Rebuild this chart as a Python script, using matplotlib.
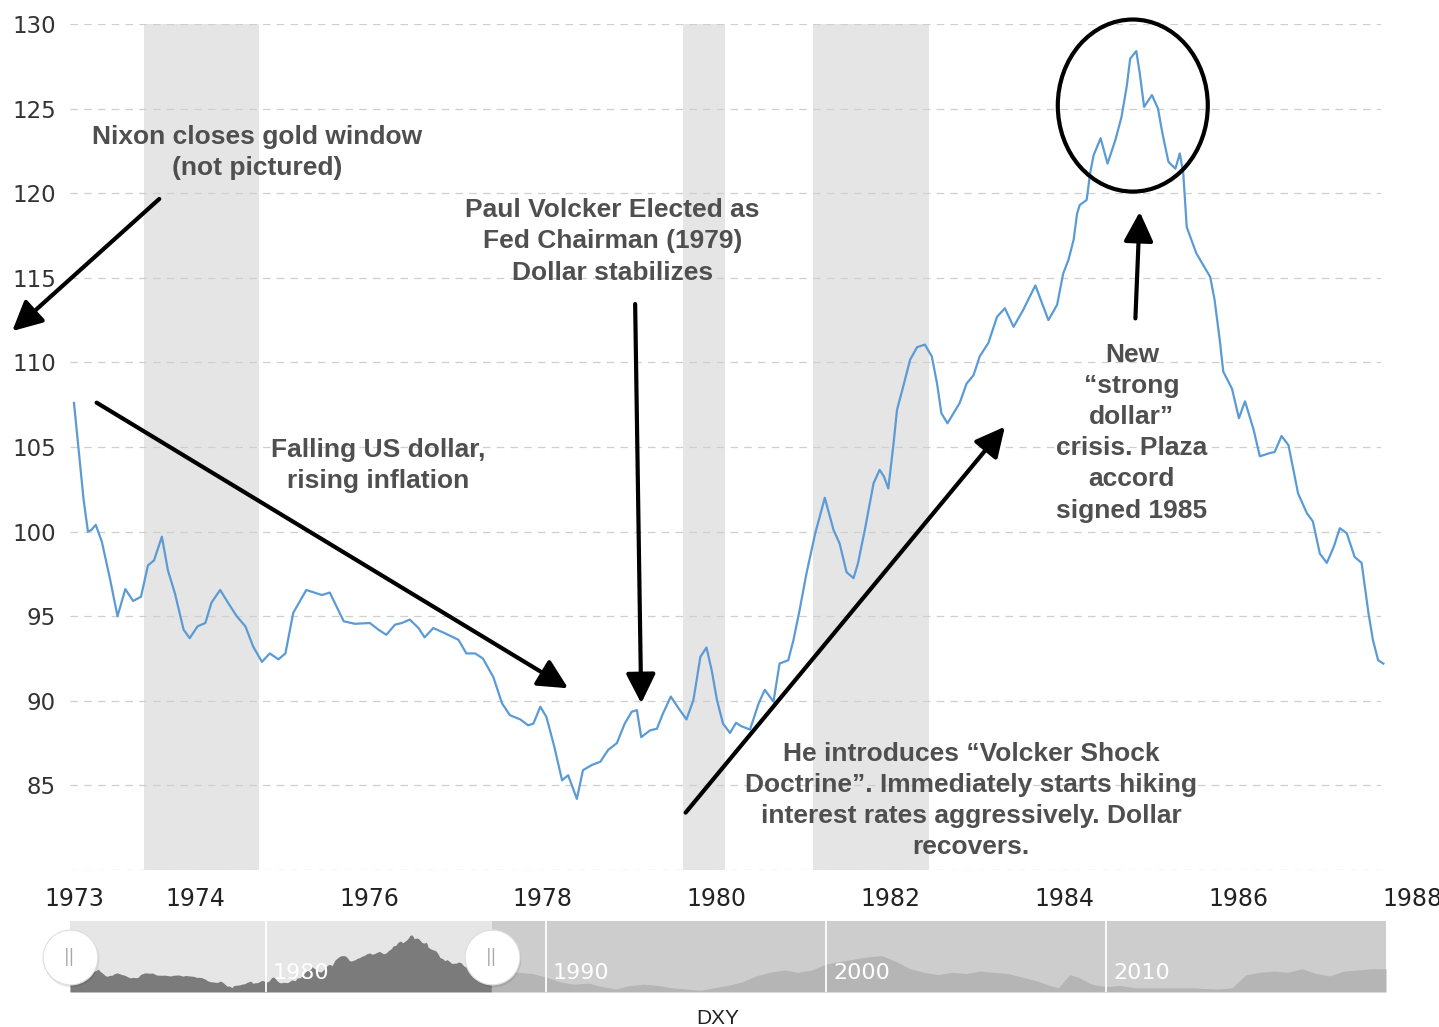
import matplotlib
matplotlib.use("Agg")
import matplotlib.pyplot as plt
import matplotlib.transforms as mtransforms
from matplotlib.patches import Ellipse

# ========================== Data ==========================
# DXY (decimal year, index level)
dxy_dates = [
    1973.00, 1973.05, 1973.11, 1973.16, 1973.20, 1973.25, 1973.32, 1973.41, 1973.50, 1973.59,
    1973.68, 1973.77, 1973.85, 1973.92, 1974.01, 1974.08, 1974.16, 1974.26, 1974.33, 1974.42,
    1974.51, 1974.58, 1974.68, 1974.77, 1974.87, 1974.97, 1975.06, 1975.16, 1975.25, 1975.35,
    1975.43, 1975.52, 1975.67, 1975.85, 1975.94, 1976.10, 1976.23, 1976.40, 1976.50, 1976.59,
    1976.69, 1976.77, 1976.86, 1976.96, 1977.03, 1977.13, 1977.26, 1977.42, 1977.51, 1977.61,
    1977.70, 1977.82, 1977.92, 1978.01, 1978.13, 1978.22, 1978.28, 1978.36, 1978.43, 1978.52,
    1978.61, 1978.68, 1978.78, 1978.85, 1978.95, 1979.05, 1979.14, 1979.24, 1979.33, 1979.41,
    1979.47, 1979.52, 1979.62, 1979.70, 1979.77, 1979.86, 1979.95, 1980.04, 1980.12, 1980.20,
    1980.27, 1980.33, 1980.39, 1980.46, 1980.54, 1980.61, 1980.67, 1980.77, 1980.87, 1980.94,
    1981.04, 1981.11, 1981.21, 1981.27, 1981.34, 1981.42, 1981.52, 1981.63, 1981.73, 1981.80,
    1981.88, 1981.96, 1982.01, 1982.09, 1982.19, 1982.26, 1982.31, 1982.36, 1982.42, 1982.46,
    1982.53, 1982.61, 1982.69, 1982.78, 1982.86, 1982.92, 1982.97, 1983.04, 1983.11, 1983.18,
    1983.26, 1983.34, 1983.41, 1983.51, 1983.61, 1983.70, 1983.80, 1983.91, 1984.05, 1984.20,
    1984.30, 1984.37, 1984.43, 1984.49, 1984.53, 1984.56, 1984.64, 1984.68, 1984.72, 1984.80,
    1984.88, 1984.97, 1985.04, 1985.10, 1985.14, 1985.21, 1985.25, 1985.30, 1985.39, 1985.46,
    1985.51, 1985.58, 1985.66, 1985.71, 1985.75, 1985.79, 1985.90, 1986.06, 1986.11, 1986.17,
    1986.21, 1986.31, 1986.39, 1986.46, 1986.56, 1986.63, 1986.75, 1986.80, 1986.88, 1986.96,
    1987.07, 1987.17, 1987.24, 1987.32, 1987.40, 1987.48, 1987.55, 1987.63, 1987.72, 1987.80,
    1987.88, 1987.93, 1987.99, 1988.05,
]
dxy_values = [
    107.6, 105.0, 101.9, 100.0, 100.1, 100.4, 99.4, 97.3, 95.0, 96.6,
    95.9, 96.15, 98.0, 98.3, 99.7, 97.7, 96.35, 94.2, 93.7, 94.4,
    94.6, 95.8, 96.55, 95.8, 95.0, 94.4, 93.2, 92.3, 92.8, 92.45,
    92.8, 95.2, 96.55, 96.25, 96.4, 94.7, 94.55, 94.6, 94.2, 93.9,
    94.5, 94.6, 94.8, 94.3, 93.75, 94.3, 94.0, 93.6, 92.8, 92.8,
    92.5, 91.4, 89.85, 89.15, 88.9, 88.55, 88.65, 89.65, 89.05, 87.3,
    85.3, 85.6, 84.2, 85.9, 86.2, 86.4, 87.1, 87.5, 88.65, 89.35,
    89.45, 87.85, 88.25, 88.35, 89.25, 90.25, 89.55, 88.9, 90.05, 92.6,
    93.15, 91.8, 90.05, 88.65, 88.1, 88.7, 88.5, 88.3, 89.85, 90.65,
    89.95, 92.2, 92.4, 93.6, 95.35, 97.55, 99.9, 102.0, 100.1, 99.3,
    97.6, 97.25, 98.1, 100.1, 102.85, 103.65, 103.25, 102.55, 105.2, 107.2,
    108.55, 110.15, 110.9, 111.05, 110.35, 108.75, 107.0, 106.4, 107.0, 107.6,
    108.75, 109.25, 110.35, 111.15, 112.7, 113.2, 112.1, 113.1, 114.55, 112.5,
    113.4, 115.25, 116.05, 117.25, 118.8, 119.3, 119.6, 121.2, 122.25, 123.25,
    121.75, 123.15, 124.5, 126.3, 127.95, 128.4, 127.1, 125.1, 125.8, 125.0,
    123.55, 121.85, 121.45, 122.35, 121.2, 118.0, 116.45, 115.05, 113.7, 111.3,
    109.45, 108.45, 106.7, 107.7, 106.0, 104.45, 104.65, 104.7, 105.65, 105.1,
    102.25, 101.1, 100.6, 98.7, 98.15, 99.1, 100.2, 99.9, 98.5, 98.15,
    95.15, 93.6, 92.4, 92.2,
]

# navigator overview after the selected window (rough read of the thumbnail)
nav_dates = [1988.5, 1989, 1989.5, 1990, 1990.5, 1991, 1991.5, 1992, 1992.5, 1993,
             1993.5, 1994, 1994.5, 1995, 1995.5, 1996, 1996.5, 1997, 1997.5, 1998,
             1998.5, 1999, 1999.5, 2000, 2000.5, 2001, 2001.5, 2002, 2002.5, 2003,
             2003.5, 2004, 2004.5, 2005, 2005.5, 2006, 2006.5, 2007, 2007.5, 2008,
             2008.3, 2008.7, 2009, 2009.5, 2010, 2010.5, 2011, 2012, 2013, 2014,
             2014.5, 2015, 2015.5, 2016, 2016.5, 2017, 2017.5, 2018, 2018.5, 2019,
             2019.5, 2020]
nav_values = [95, 97, 96, 93, 89, 87, 88, 85, 83, 86,
              87, 86, 84, 83, 82, 84, 86, 89, 94, 97,
              99, 97, 99, 104, 106, 108, 110, 111, 106, 100,
              97, 95, 97, 96, 98, 97, 96, 93, 90, 86,
              84, 95, 93, 87, 85, 86, 84, 84, 84, 83,
              84, 95, 97, 98, 97, 100, 96, 94, 98, 99,
              100, 100]

recessions = [(1973.80, 1975.13), (1980.00, 1980.48), (1981.49, 1982.83)]

year_ticks = [1973, 1974, 1976, 1978, 1980, 1982, 1984, 1986]
cut_year = 1988  # label at the right edge, partly off the picture
y_ticks = [80, 85, 90, 95, 100, 105, 110, 115, 120, 125, 130]
nav_decades = [1980, 1990, 2000, 2010]

# ========================== Settings ==========================
W, H = 1439, 1027
fig = plt.figure(figsize=(W / 100, H / 100), dpi=100)
BLUE = '#5b9bd5'
NOTE = '#4f4f4f'
note_kw = dict(fontsize=19, fontweight='bold', color=NOTE, ha='center', va='center',
               family='Liberation Sans', linespacing=1.38)
LABEL_SHIFT = 0.39  # year labels sit a bit right of Jan 1 (except the first)

# ========================== Main plot ==========================
ax = fig.add_axes([70 / W, 1 - 870 / H, 1311 / W, 846 / H])

for x0, x1 in recessions:
    ax.axvspan(x0, x1, color='#e5e5e5', lw=0, zorder=0)

for yv in y_ticks:
    ax.axhline(yv, color='#cfcfcf', lw=0.9, ls=(0, (6, 5)), zorder=1)

ax.plot(dxy_dates, dxy_values, color=BLUE, lw=1.6, zorder=3, clip_on=False)

tick_pos = [y if y == 1973 else y + LABEL_SHIFT for y in year_ticks]
ax.set_xticks(tick_pos, [str(y) for y in year_ticks])
ax.set_yticks(y_ticks, [''] + [str(v) for v in y_ticks[1:]])
ax.tick_params(axis='x', length=0, pad=12, labelsize=17, labelcolor='#222222')
ax.tick_params(axis='y', length=0, pad=10, labelsize=16.5, labelcolor='#333333')
for s in ax.spines.values():
    s.set_visible(False)
ax.set_xlim(1973 - 4 / 87, 1973 + 1307 / 87)
ax.set_ylim(80, 130)

ax.annotate(str(cut_year), xy=(cut_year + LABEL_SHIFT, 0), xycoords=('data', 'axes fraction'),
            xytext=(0, -12), textcoords='offset points', ha='center', va='top',
            fontsize=17, color='#222222', annotation_clip=False)

# annotations
ax.text(1975.10, 122.4, 'Nixon closes gold window\n(not pictured)', **note_kw)
ax.text(1976.50, 103.9, 'Falling US dollar,\nrising inflation', **note_kw)
ax.text(1979.19, 117.15, 'Paul Volcker Elected as\nFed Chairman (1979)\nDollar stabilizes', **note_kw)
ax.text(1983.31, 84.1,
        'He introduces \u201cVolcker Shock\nDoctrine\u201d. Immediately starts hiking\n'
        'interest rates aggressively. Dollar\nrecovers.', **note_kw)
ax.text(1985.16, 105.85, 'New\n\u201cstrong\ndollar\u201d\ncrisis. Plaza\naccord\nsigned 1985',
        **note_kw)

arrow_kw = dict(arrowstyle='-|>,head_length=0.9,head_width=0.45', mutation_scale=20,
                lw=3, color='black', shrinkA=0, shrinkB=0, clip_on=False)
arrows = [
    ((1973.98, 119.66), (1972.29, 111.85)),
    ((1973.26, 107.62), (1978.68, 90.74)),
    ((1979.45, 113.45), (1979.52, 89.85)),
    ((1980.03, 83.39), (1983.70, 106.2)),
    ((1985.20, 112.6), (1985.25, 118.9)),
]
for tail, tip in arrows:
    ax.annotate('', xy=tip, xytext=tail, arrowprops=arrow_kw, annotation_clip=False)

ax.add_patch(Ellipse((1985.17, 125.18), 1.724, 10.17, fill=False, lw=3,
                     ec='black', clip_on=False, zorder=5))

# ========================== Navigator ==========================
nav = fig.add_axes([70 / W, 1 - 992 / H, 1316 / W, 71 / H])
sel_end = 1988.07
nav.axvspan(1973, sel_end, color='#e6e6e6', lw=0, zorder=0)
nav.axvspan(sel_end, 2020, color='#cdcdcd', lw=0, zorder=0)

nav.fill_between(dxy_dates, 80.5, dxy_values, color='#7b7b7b', lw=0, zorder=1)
nav.fill_between([dxy_dates[-1]] + nav_dates, 80.5, [dxy_values[-1]] + nav_values,
                 color='#b5b5b5', lw=0, zorder=1)
tr = mtransforms.blended_transform_factory(nav.transData, nav.transAxes)
for d in nav_decades:
    nav.axvline(d, color='white', lw=1.3, zorder=2)
    nav.text(d + 0.25, 0.27, str(d), transform=tr, color='white', fontsize=16,
             va='center', ha='left', zorder=3)
nav.set_xticks([])
nav.set_yticks([])
nav.set_xlim(1973, 2020)
nav.set_ylim(80.5, 140)
for s in nav.spines.values():
    s.set_visible(False)

shadow = tr + mtransforms.ScaledTranslation(0.01, -0.02, fig.dpi_scale_trans)
for hx in [1973, sel_end]:
    nav.plot([hx], [0.486], 'o', ms=40, mfc='#00000018', mec='none', transform=shadow,
             clip_on=False, zorder=4)
    nav.plot([hx], [0.486], 'o', ms=39.5, mfc='white', mec='#dddddd', mew=0.8,
             transform=tr, clip_on=False, zorder=5)
    nav.text(hx, 0.50, '||', transform=tr, ha='center', va='center', fontsize=12,
             color='#a8a8a8', zorder=6)

fig.text(718 / W, 1 - 1019 / H, 'DXY', ha='center', va='center', fontsize=15,
         color='#222222', family='Liberation Sans')

fig.savefig('out.png', dpi=100)
